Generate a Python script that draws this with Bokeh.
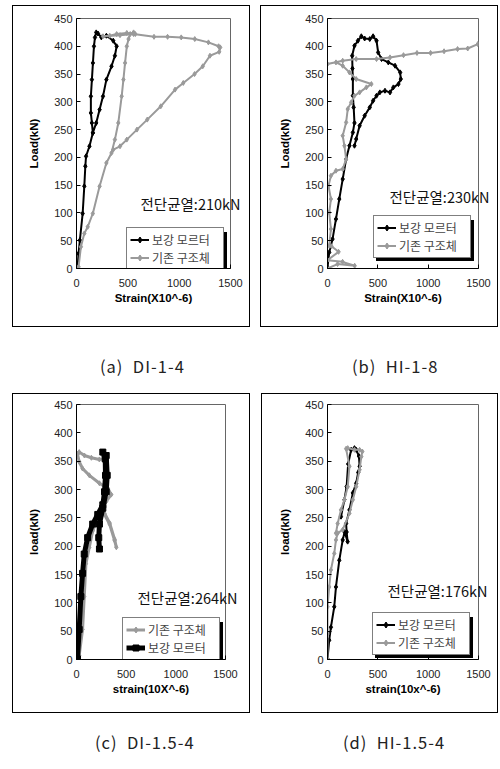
from bokeh.plotting import figure
from bokeh.models import Range1d, FixedTicker, Legend, LegendItem, Div, Spacer, LinearAxis
from bokeh.layouts import column, row
from bokeh.embed import file_html
from bokeh.resources import INLINE

# ---------------- data ----------------
# (a) DI-1-4
a_mortar_x = [10, 20, 33, 60, 76, 86, 93, 126, 159, 150, 140, 140, 150, 160, 170, 180, 192, 209, 242, 291, 358, 391, 374, 341, 291, 258, 225, 192, 159]
a_mortar_y = [0, 27, 51, 99, 148, 184, 202, 220, 244, 262, 280, 310, 340, 370, 400, 416, 425, 423, 416, 419, 410, 400, 383, 364, 340, 310, 286, 262, 244]
a_exist_x = [0, 20, 43, 76, 109, 159, 225, 291, 341, 374, 407, 440, 457, 473, 490, 507, 523, 556, 573, 490, 391, 324, 258, 424, 556, 755, 887, 1020, 1152, 1285, 1384, 1400, 1390, 1300, 1230, 1150, 1040, 960, 821, 689, 589, 490, 424, 358]
a_exist_y = [0, 3, 39, 63, 75, 99, 148, 190, 208, 232, 262, 310, 340, 370, 400, 413, 422, 425, 422, 424, 422, 419, 418, 420, 422, 417, 417, 416, 413, 407, 400, 398, 390, 383, 364, 350, 334, 322, 292, 268, 250, 232, 220, 214]

# (b) HI-1-8
b_mortar_x = [0, 17, 50, 84, 117, 151, 185, 218, 252, 268, 260, 252, 252, 248, 245, 268, 302, 336, 369, 420, 453, 487, 503, 537, 604, 671, 722, 728, 705, 654, 621, 571, 520, 487, 453, 420, 369, 319, 285, 268]
b_mortar_y = [2, 29, 53, 89, 125, 161, 197, 221, 245, 262, 290, 311, 341, 360, 383, 401, 410, 418, 414, 413, 418, 410, 389, 377, 371, 365, 353, 341, 332, 326, 317, 320, 317, 311, 302, 290, 275, 257, 233, 221]
b_exist_x = [0, 100, 270, 150, 0, 110, 40, 17, 34, 17, 34, 10, 34, 84, 151, 185, 168, 151, 185, 201, 235, 268, 319, 386, 436, 285, 218, 151, 84, 0, 151, 285, 487, 621, 755, 889, 1024, 1158, 1292, 1393, 1493]
b_exist_y = [0, 8, 5, 12, 15, 30, 40, 41, 71, 101, 125, 149, 167, 176, 179, 197, 221, 239, 263, 287, 299, 311, 317, 326, 332, 341, 353, 365, 371, 368, 374, 377, 377, 380, 384, 388, 388, 391, 395, 396, 404]

# (c) DI-1.5-4
c_exist_x = [0, 27, 61, 78, 95, 129, 163, 214, 265, 282, 333, 384, 401, 384, 333, 282, 265, 299, 350, 316, 231, 129, 61, 27, 10, 27, 80, 150, 230, 300]
c_exist_y = [0, 7, 53, 111, 169, 198, 227, 250, 267, 256, 239, 210, 198, 212, 241, 258, 270, 279, 291, 302, 311, 325, 337, 349, 363, 366, 360, 356, 353, 355]
c_mortar_x = [10, 27, 44, 61, 78, 112, 163, 214, 265, 282, 292, 289, 265, 299, 309, 299, 265, 231, 224, 231]
c_mortar_y = [1, 53, 111, 152, 186, 215, 239, 256, 273, 296, 325, 354, 366, 360, 325, 296, 267, 239, 215, 195]

# (d) HI-1.5-4
d_mortar_x = [0, 17, 34, 67, 84, 117, 151, 170, 200, 190, 185, 218, 252, 285, 305, 319, 312, 285, 268, 235, 205, 190, 168, 134]
d_mortar_y = [1, 34, 57, 93, 128, 175, 211, 225, 208, 225, 240, 264, 294, 311, 330, 341, 359, 370, 373, 370, 345, 305, 282, 252]
d_exist_x = [0, 0, 0, 17, 34, 67, 84, 101, 151, 218, 252, 285, 319, 336, 346, 319, 268, 201, 185, 218, 201, 168, 134, 101, 84]
d_exist_y = [1, 45, 93, 128, 158, 187, 211, 223, 229, 258, 282, 305, 335, 358, 367, 370, 370, 373, 372, 341, 305, 282, 264, 240, 223]

x_ticks = [0, 500, 1000, 1500]
y_ticks = [0, 50, 100, 150, 200, 250, 300, 350, 400, 450]

LBL_MORTAR = "보강 모르터"
LBL_EXIST = "기존 구조체"

KR = "Noto Sans CJK KR"
SANS = "Liberation Sans"
BLACK = "#000000"
GRAY = "#9a9a9a"


def make_panel(w, h, bl, br, bt, bb, xlabel, ylabel, series, leg_loc, note, note_y, note_back):
    p = figure(width=w, height=h, x_range=Range1d(0, 1500), y_range=Range1d(0, 450),
               output_backend="svg", toolbar_location=None,
               min_border_left=bl, min_border_right=br, min_border_top=bt, min_border_bottom=bb,
               styles={"border": "1px solid #000", "box-sizing": "border-box"})
    p.grid.visible = False
    p.outline_line_color = "#666666"
    p.outline_line_width = 1
    p.background_fill_color = "white"
    p.border_fill_color = "white"
    for ax, ticks in ((p.xaxis, x_ticks), (p.yaxis, y_ticks)):
        ax.ticker = FixedTicker(ticks=ticks)
        ax.minor_tick_line_color = None
        ax.major_tick_in = 4
        ax.major_tick_out = 0
        ax.axis_line_color = BLACK
        ax.major_tick_line_color = BLACK
        ax.major_label_text_font = SANS
        ax.major_label_text_font_size = "11px"
        ax.major_label_text_color = "#222222"
        ax.axis_label_text_font = SANS
        ax.axis_label_text_font_style = "bold"
        ax.axis_label_text_font_size = "11.5px"
        ax.axis_label_text_color = BLACK
    p.xaxis.axis_label = xlabel
    p.yaxis.axis_label = ylabel
    p.xaxis.major_label_standoff = 10
    p.yaxis.major_label_standoff = 4
    p.xaxis.axis_label_standoff = 2
    p.yaxis.axis_label_standoff = 11

    items = []
    shadow_items = []
    ghost = p.line([0], [0], line_alpha=0)
    for (xs, ys, label, color, lw, marker, msize) in series:
        lr = p.line(xs, ys, line_color=color, line_width=lw)
        sr = p.scatter(xs, ys, marker=marker, size=msize, fill_color=color, line_color=color)
        items.append(LegendItem(label=label, renderers=[lr, sr]))
        shadow_items.append(LegendItem(label=" ", renderers=[ghost]))

    def style(leg):
        leg.border_line_color = BLACK
        leg.border_line_width = 1
        leg.background_fill_alpha = 1
        leg.label_text_font = KR
        leg.label_text_font_size = "12px"
        leg.glyph_width = 19
        leg.glyph_height = 15
        leg.label_height = 16
        leg.label_width = 68
        leg.label_standoff = 3
        leg.padding = 3
        leg.spacing = 1
        leg.margin = 0

    shadow = Legend(items=shadow_items, location=(leg_loc[0] + 3, leg_loc[1] - 3))
    style(shadow)
    shadow.background_fill_color = BLACK
    p.add_layout(shadow)

    leg = Legend(items=items, location=leg_loc)
    style(leg)
    leg.background_fill_color = "white"
    p.add_layout(leg)

    # shear-crack note: a label on a bare right-hand axis, pulled back into the plot
    note_axis = LinearAxis(ticker=FixedTicker(ticks=[note_y]),
                           major_label_overrides={note_y: note})
    note_axis.axis_line_color = None
    note_axis.major_tick_line_color = None
    note_axis.minor_tick_line_color = None
    note_axis.major_tick_in = 0
    note_axis.major_tick_out = 0
    note_axis.major_label_standoff = -note_back
    note_axis.major_label_text_font = KR
    note_axis.major_label_text_font_size = "14.5px"
    note_axis.major_label_text_color = "#111111"
    p.add_layout(note_axis, "right")
    return p


pa = make_panel(238, 322, 63, 21, 12, 59, "Strain(X10^-6)", "Load(kN)",
                [(a_mortar_x, a_mortar_y, LBL_MORTAR, BLACK, 2, "diamond", 5),
                 (a_exist_x, a_exist_y, LBL_EXIST, GRAY, 2, "diamond", 5)],
                (50, -2), "전단균열:210kN", 117, 90)
pb = make_panel(238, 322, 66, 21, 10, 60, "Strain(X10^-6)", "Load(kN)",
                [(b_mortar_x, b_mortar_y, LBL_MORTAR, BLACK, 2, "diamond", 5),
                 (b_exist_x, b_exist_y, LBL_EXIST, GRAY, 2, "diamond", 5)],
                (46, 10), "전단균열:230kN", 130, 89)
pc = make_panel(238, 320, 63, 26, 10, 50, "strain(10X^-6)", "load(kN)",
                [(c_exist_x, c_exist_y, LBL_EXIST, GRAY, 3, "diamond", 5),
                 (c_mortar_x, c_mortar_y, LBL_MORTAR, BLACK, 5, "square", 6)],
                (46, -1), "전단균열:264kN", 109, 88)
pd_ = make_panel(237, 320, 65, 21, 9, 55, "strain(10x^-6)", "load(kN)",
                 [(d_mortar_x, d_mortar_y, LBL_MORTAR, BLACK, 2, "diamond", 5),
                  (d_exist_x, d_exist_y, LBL_EXIST, GRAY, 2, "diamond", 5)],
                 (45, 4), "전단균열:176kN", 122, 91)


def caption(text, w, h, pad_top, pad_left):
    return Div(text=f'<div style="text-align:left;padding-top:{pad_top}px;'
                    f'padding-left:{pad_left}px;font-family:\'{KR}\';font-size:16.5px;'
                    f'letter-spacing:1px;color:#222;white-space:pre;line-height:24px;">{text}</div>',
               width=w, height=h, margin=0)


layout = column(
    Spacer(height=5),
    row(Spacer(width=12), pa, Spacer(width=10), pb),
    row(Spacer(width=12), caption("(a)  DI-1-4", 238, 66, 27, 88), Spacer(width=10),
        caption("(b)  HI-1-8", 238, 66, 27, 92)),
    row(Spacer(width=12), pc, Spacer(width=11), pd_),
    row(Spacer(width=12), caption("(c)  DI-1.5-4", 238, 40, 17, 83), Spacer(width=11),
        caption("(d)  HI-1.5-4", 237, 40, 17, 82)),
)

open("out.html", "w").write(file_html(layout, INLINE))
